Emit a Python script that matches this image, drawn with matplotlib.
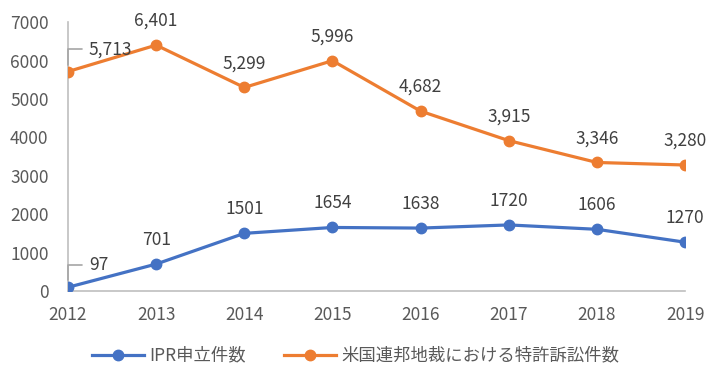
import matplotlib
matplotlib.use("Agg")
import matplotlib.pyplot as plt

years = [2012, 2013, 2014, 2015, 2016, 2017, 2018, 2019]
ipr = [97, 701, 1501, 1654, 1638, 1720, 1606, 1270]
lit = [5713, 6401, 5299, 5996, 4682, 3915, 3346, 3280]
ipr_labels = ["97", "701", "1501", "1654", "1638", "1720", "1606", "1270"]
lit_labels = ["5,713", "6,401", "5,299", "5,996", "4,682", "3,915", "3,346", "3,280"]
yticks = [0, 1000, 2000, 3000, 4000, 5000, 6000, 7000]
names = ["IPR申立件数", "米国連邦地裁における特許訴訟件数"]

plt.rcParams['font.family'] = ['Noto Sans CJK JP', 'DejaVu Sans']
gray = '#595959'
blue = '#4472C4'
orange = '#ED7D31'
fs = 12.5

fig = plt.figure(figsize=(7.11, 3.88), dpi=100)
ax = fig.add_axes([0.0956, 0.25, 0.868, 0.693])
x = list(range(len(years)))
ax.plot(x, ipr, color=blue, lw=2.3, marker='o', ms=7.5, label=names[0], zorder=3)
ax.plot(x, lit, color=orange, lw=2.3, marker='o', ms=7.5, label=names[1], zorder=3)

ax.set_xlim(0, len(years) - 1)
ax.set_ylim(0, 7000)
ax.set_yticks(yticks)
ax.set_xticks(x)
ax.set_xticklabels([str(y) for y in years])
for s in ['top', 'right']:
    ax.spines[s].set_visible(False)
for s in ['left', 'bottom']:
    ax.spines[s].set_color('#BFBFBF')
    ax.spines[s].set_linewidth(1.2)
ax.tick_params(axis='both', length=0, labelsize=fs, colors=gray)
ax.tick_params(axis='x', pad=11)
ax.tick_params(axis='y', pad=14)
for lab in ax.get_yticklabels() + ax.get_xticklabels():
    lab.set_color(gray)

for i in range(1, len(years)):
    ax.annotate(lit_labels[i], (x[i], lit[i]), xytext=(0, 11), textcoords='offset points',
                ha='center', va='bottom', fontsize=fs, color='#404040')
    ax.annotate(ipr_labels[i], (x[i], ipr[i]), xytext=(0, 11), textcoords='offset points',
                ha='center', va='bottom', fontsize=fs, color='#404040')

# 2012 labels with leader lines
for val, lab in [(lit[0], lit_labels[0]), (ipr[0], ipr_labels[0])]:
    ax.annotate(lab, (x[0], val), xytext=(15, 16), textcoords='offset points',
                ha='left', va='center', fontsize=fs, color='#404040',
                arrowprops=dict(arrowstyle='-', color='#A6A6A6', lw=1.2,
                                connectionstyle='angle,angleA=0,angleB=90,rad=0',
                                shrinkA=3, shrinkB=5))

leg = fig.legend(loc='lower center', bbox_to_anchor=(0.5, 0.02), ncol=2, frameon=False,
                 fontsize=fs, handlelength=3.0, handletextpad=0.3, columnspacing=2.2,
                 labelcolor=gray)

fig.savefig('out.png', dpi=100)
